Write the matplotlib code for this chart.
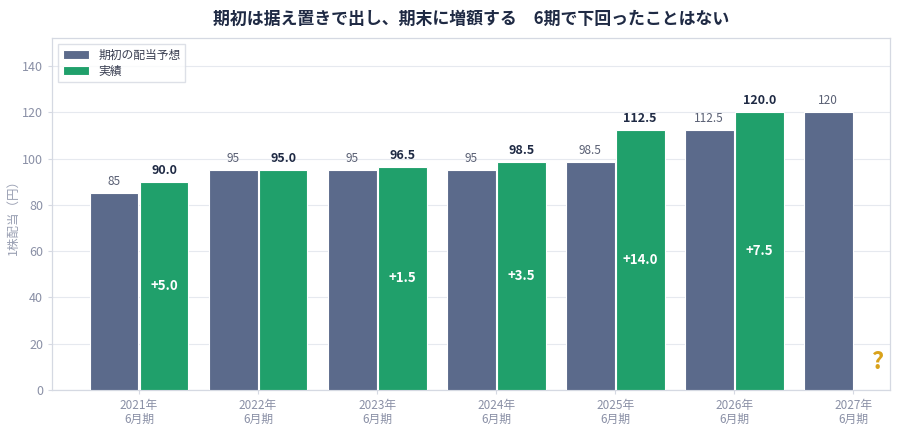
import matplotlib
matplotlib.use("Agg")
import matplotlib.pyplot as plt
import numpy as np

plt.rcParams['font.family'] = ['Noto Sans CJK JP', 'DejaVu Sans']

categories = ["2021年\n6月期", "2022年\n6月期", "2023年\n6月期", "2024年\n6月期",
              "2025年\n6月期", "2026年\n6月期", "2027年\n6月期"]
initial_forecast = [85, 95, 95, 95, 98.5, 112.5, 120]
initial_labels = ["85", "95", "95", "95", "98.5", "112.5", "120"]
actual = [90.0, 95.0, 96.5, 98.5, 112.5, 120.0]
diff_labels = ["+5.0", "", "+1.5", "+3.5", "+14.0", "+7.5"]

BLUE = "#5b6a8b"
GREEN = "#20a06b"
NAVY = "#1f2a44"
GRAY = "#8a90a6"
SPINE = "#d5d9e2"

fig = plt.figure(figsize=(9, 4.29), dpi=100)
ax = fig.add_axes([0.058, 0.091, 0.931, 0.820])

x = np.arange(len(categories))
xa = np.arange(len(actual))
w = 0.41
off = 0.21

ax.bar(x - off, initial_forecast, width=w, color=BLUE, edgecolor="white", linewidth=0.8,
       label="期初の配当予想", zorder=3)
ax.bar(xa + off, actual, width=w, color=GREEN, edgecolor="white", linewidth=0.8,
       label="実績", zorder=3)

for xi, v, lab in zip(x, initial_forecast, initial_labels):
    ax.text(xi - off, v + 2.2, lab, ha="center", va="bottom", fontsize=8.5,
            color="#5a6074", fontweight="normal", zorder=4)
for xi, v in zip(xa, actual):
    ax.text(xi + off, v + 2.2, f"{v:.1f}", ha="center", va="bottom", fontsize=9,
            color=NAVY, fontweight="bold", zorder=4)
for xi, v, d in zip(xa, actual, diff_labels):
    if d:
        ax.text(xi + off, v / 2, d, ha="center", va="center", fontsize=9.5,
                color="white", fontweight="semibold", zorder=4)

ax.text(len(categories) - 1 + off, 12, "?", ha="center", va="center", fontsize=17,
        color="#d9a21b", fontweight="bold", zorder=4)

ax.set_xlim(-0.73, 6.31)
ax.set_ylim(0, 152)
ax.set_xticks(x)
ax.set_xticklabels(categories, fontsize=8.5, color=GRAY, linespacing=1.1)
ax.set_yticks(np.arange(0, 141, 20))
ax.tick_params(axis="y", labelsize=9, colors=GRAY, length=3, color=SPINE)
ax.tick_params(axis="x", length=3, color=SPINE)
for lbl in ax.get_yticklabels():
    lbl.set_color(GRAY)
ax.set_ylabel("1株配当（円）", fontsize=9, color="#9aa0b3", labelpad=2)

ax.grid(axis="y", color="#e6e9ef", linewidth=0.8, zorder=0)
ax.set_axisbelow(True)
for s in ax.spines.values():
    s.set_color(SPINE)
    s.set_linewidth(0.9)

leg = ax.legend(loc="upper left", fontsize=8.5, frameon=True, fancybox=False,
                edgecolor=SPINE, handlelength=2.2, handleheight=0.8,
                borderpad=0.4, labelspacing=0.25)
for t in leg.get_texts():
    t.set_color("#3a3f52")

fig.text(0.523, 0.955, "期初は据え置きで出し、期末に増額する　6期で下回ったことはない",
         ha="center", va="center", fontsize=12.2, fontweight="bold", color=NAVY)

fig.savefig("out.png", dpi=100)
